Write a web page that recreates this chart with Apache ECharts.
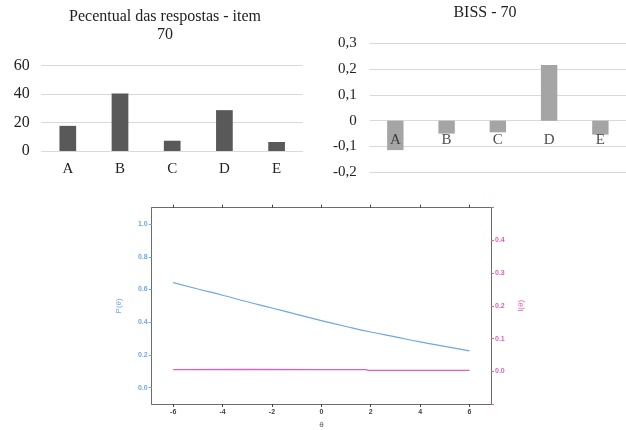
<!DOCTYPE html>
<html>
<head>
<meta charset="utf-8">
<script src="https://cdn.jsdelivr.net/npm/echarts@6/dist/echarts.min.js"></script>
<style>
html, body { margin: 0; padding: 0; background: #fff; }
#main { width: 626px; height: 430px; }
</style>
</head>
<body>
<div id="main"></div>
<script>
// respostas (percentual) e BISS do item 70
var options = ['A', 'B', 'C', 'D', 'E'];
var percentValues = [17.6, 40.3, 7.2, 28.6, 6.3];
var bissValues = [-0.114, -0.05, -0.045, 0.216, -0.054];

// curva do item: P(theta) e I(theta)
var thetaP = [-6, -5, -4, -3, -2, -1, 0, 1, 2, 3, 4, 5, 6];
var probValues = [0.642, 0.603, 0.565, 0.525, 0.487, 0.448, 0.41, 0.374, 0.34, 0.31, 0.28, 0.252, 0.225];
var thetaI = [-6, -3, 0, 1.8, 1.9, 6];
var infoValues = [0.005, 0.006, 0.005, 0.005, 0.003, 0.003];

var thetaTicks = [-6, -4, -2, 0, 2, 4, 6];
var pTicks = [0, 0.2, 0.4, 0.6, 0.8, 1.0];

var serif = '"Liberation Serif", "Times New Roman", serif';
var sans = '"Liberation Sans", Arial, sans-serif';
var blue = '#6fa7e4';
var pink = '#e060b4';
var boxColor = '#6b6b6b';

function pairs(xs, ys) {
    return xs.map(function (x, i) { return [x, ys[i]]; });
}

var option = {
    animation: false,
    backgroundColor: '#fff',
    graphic: [{
        type: 'text', x: 165, y: 17,
        style: {text: 'Pecentual das respostas - item', font: '16px ' + serif, fill: '#222', align: 'center', verticalAlign: 'middle'}
    }, {
        type: 'text', x: 165, y: 35,
        style: {text: '70', font: '16px ' + serif, fill: '#222', align: 'center', verticalAlign: 'middle'}
    }, {
        type: 'text', x: 485, y: 13,
        style: {text: 'BISS - 70', font: '16px ' + serif, fill: '#222', align: 'center', verticalAlign: 'middle'}
    }],
    grid: [
        {left: 41.7, top: 65.3, width: 261, height: 85.7},
        {left: 369.7, top: 43.3, width: 261, height: 129},
        {left: 151.7, top: 207.7, width: 339.3, height: 196.3}
    ],
    xAxis: [{
        gridIndex: 0,
        type: 'category',
        data: options,
        axisLine: {lineStyle: {color: '#d9d9d9'}},
        axisTick: {show: false},
        axisLabel: {margin: 11, fontFamily: serif, fontSize: 15, color: '#222'}
    }, {
        gridIndex: 1,
        type: 'category',
        data: options,
        axisLine: {show: false},
        axisTick: {show: false},
        axisLabel: {show: false}
    }, {
        gridIndex: 2,
        type: 'value',
        min: -6.87,
        max: 6.87,
        name: 'θ',
        nameLocation: 'middle',
        nameGap: 17,
        nameTextStyle: {fontFamily: sans, fontSize: 8, color: '#555'},
        axisLine: {onZero: false, lineStyle: {color: boxColor}},
        axisTick: {length: 3, customValues: thetaTicks, lineStyle: {color: '#444'}},
        axisLabel: {customValues: thetaTicks, margin: 5, fontFamily: sans, fontSize: 7, fontWeight: 'bold', color: '#444'},
        splitLine: {show: false}
    }, {
        gridIndex: 2,
        type: 'value',
        position: 'top',
        min: -6.87,
        max: 6.87,
        axisLine: {onZero: false, lineStyle: {color: boxColor}},
        axisTick: {length: 3, customValues: thetaTicks, lineStyle: {color: '#444'}},
        axisLabel: {show: false},
        splitLine: {show: false}
    }],
    yAxis: [{
        gridIndex: 0,
        type: 'value',
        min: 0,
        max: 60,
        interval: 20,
        axisLine: {show: false},
        axisTick: {show: false},
        axisLabel: {margin: 12, fontFamily: serif, fontSize: 16, color: '#222'},
        splitLine: {lineStyle: {color: '#d9d9d9'}}
    }, {
        gridIndex: 1,
        type: 'value',
        min: -0.2,
        max: 0.3,
        interval: 0.1,
        axisLine: {show: false},
        axisTick: {show: false},
        axisLabel: {
            margin: 13, fontFamily: serif, fontSize: 15, color: '#222',
            formatter: function (v) {
                if (Math.abs(v) < 1e-9) return '0';
                return v.toFixed(1).replace('.', ',');
            }
        },
        splitLine: {lineStyle: {color: '#d9d9d9'}}
    }, {
        gridIndex: 2,
        type: 'value',
        min: -0.1,
        max: 1.1,
        name: 'P(θ)',
        nameLocation: 'middle',
        nameGap: 29,
        nameTextStyle: {fontFamily: sans, fontSize: 8, color: blue},
        axisLine: {show: true, onZero: false, lineStyle: {color: boxColor}},
        axisTick: {show: true, length: 3, customValues: pTicks, lineStyle: {color: blue}},
        axisLabel: {
            customValues: pTicks, margin: 4, fontFamily: sans, fontSize: 7, fontWeight: 'bold', color: blue,
            formatter: function (v) { return v.toFixed(1); }
        },
        splitLine: {show: false}
    }, {
        gridIndex: 2,
        type: 'value',
        position: 'right',
        min: -0.1,
        max: 0.5,
        interval: 0.1,
        name: 'I(θ)',
        nameLocation: 'middle',
        nameGap: 26,
        nameTextStyle: {fontFamily: sans, fontSize: 8, color: pink},
        axisLine: {show: true, onZero: false, lineStyle: {color: boxColor}},
        axisTick: {show: true, length: 3, lineStyle: {color: pink}},
        axisLabel: {
            margin: 4, fontFamily: sans, fontSize: 7, fontWeight: 'bold', color: pink,
            formatter: function (v) {
                if (v < -0.05 || v > 0.45) return '';
                return v.toFixed(1);
            }
        },
        splitLine: {show: false}
    }],
    series: [{
        type: 'bar',
        xAxisIndex: 0,
        yAxisIndex: 0,
        barWidth: '32%',
        itemStyle: {color: '#595959'},
        data: percentValues
    }, {
        type: 'bar',
        xAxisIndex: 1,
        yAxisIndex: 1,
        barWidth: '32%',
        itemStyle: {color: '#a5a5a5'},
        data: bissValues
    }, {
        // category names sit just under the zero line, over the bars
        type: 'scatter',
        xAxisIndex: 1,
        yAxisIndex: 1,
        z: 5,
        symbolSize: 0,
        silent: true,
        label: {
            show: true,
            position: 'bottom',
            distance: 12,
            fontFamily: serif,
            fontSize: 15,
            color: '#222',
            formatter: function (p) { return p.name; }
        },
        data: options.map(function (c) { return {name: c, value: [c, 0]}; })
    }, {
        type: 'line',
        xAxisIndex: 2,
        yAxisIndex: 2,
        smooth: true,
        showSymbol: false,
        lineStyle: {color: blue, width: 1.2},
        data: pairs(thetaP, probValues)
    }, {
        type: 'line',
        xAxisIndex: 2,
        yAxisIndex: 3,
        showSymbol: false,
        lineStyle: {color: pink, width: 1.2},
        data: pairs(thetaI, infoValues)
    }]
};

var chart = echarts.init(document.getElementById('main'));
chart.setOption(option);
</script>
</body>
</html>
